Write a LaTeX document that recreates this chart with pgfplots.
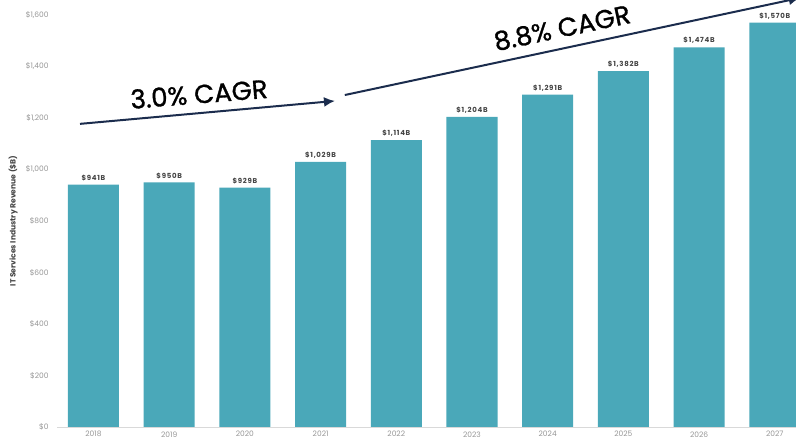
\documentclass[border=0pt]{standalone}
\usepackage{pgfplots}
\pgfplotsset{compat=1.18}
\usetikzlibrary{arrows.meta}
\usepackage{fontspec}
\setmainfont{Poppins}
\newfontfamily\cagrfont{Poppins}[FakeBold=1.2]
\definecolor{barc}{RGB}{74,168,185}
\definecolor{navy}{RGB}{27,44,77}
\definecolor{tickc}{RGB}{150,150,150}
\definecolor{valc}{RGB}{68,68,68}
\begin{document}
\begin{tikzpicture}
\begin{axis}[
  x=75.7pt, y=0.2575pt,
  xmin=-0.48, xmax=9.29,
  ymin=0, ymax=1600,
  clip=false,
  axis x line*=bottom,
  axis y line*=left,
  x axis line style={draw=black!15, line width=0.8pt, -},
  y axis line style={draw=none},
  major tick length=0pt,
  xtick=data,
  xticklabels={2018,2019,2020,2021,2022,2023,2024,2025,2026,2027},
  ytick={0,200,400,600,800,1000,1200,1400,1600},
  yticklabels={\$0,\$200,\$400,\$600,\$800,{\$1,000},{\$1,200},{\$1,400},{\$1,600}},
  ticklabel style={font=\fontsize{7.5}{9}\selectfont, text=tickc},
  xticklabel style={yshift=-1pt},
  yticklabel style={xshift=-5pt},
  /pgf/number format/assume math mode=true,
  /pgf/number format/1000 sep={,},
  ylabel={IT Services Industry Revenue (\$B)},
  ylabel style={at={(rel axis cs:-0.0595,0.5)}, anchor=center, font=\fontsize{7.6}{8}\selectfont\bfseries, text=valc},
  ybar, bar width=51pt,
  nodes near coords={\$\pgfmathprintnumber{\pgfplotspointmeta}B},
  every node near coord/.append style={font=\fontsize{7}{8}\selectfont\bfseries\addfontfeature{LetterSpace=10}, text=valc, anchor=south, yshift=0pt},
]
\addplot[fill=barc, draw=none] coordinates {
  (0,941) (1,950) (2,929) (3,1029) (4,1114) (5,1204) (6,1291) (7,1382) (8,1474) (9,1570)
};
\draw[navy, line width=2pt, -{Latex[length=11pt,width=10pt]}] (axis cs:-0.178,1177) -- (axis cs:3.19,1266);
\draw[navy, line width=2pt, -{Latex[length=11pt,width=10pt]}] (axis cs:3.32,1289) -- (axis cs:9.33,1666);
\node[rotate=4.6, font=\cagrfont\fontsize{26}{30}\selectfont, text=black] at (axis cs:1.394,1293) {3.0\% CAGR};
\node[rotate=11.8, font=\cagrfont\fontsize{26}{30}\selectfont, text=black] at (axis cs:6.19,1550) {8.8\% CAGR};
\coordinate (BL) at (axis cs:-1.235,-54.4);
\coordinate (TR) at (axis cs:9.28,1658);
\end{axis}
\pgfresetboundingbox
\useasboundingbox (BL) rectangle (TR);
\end{tikzpicture}
\end{document}
